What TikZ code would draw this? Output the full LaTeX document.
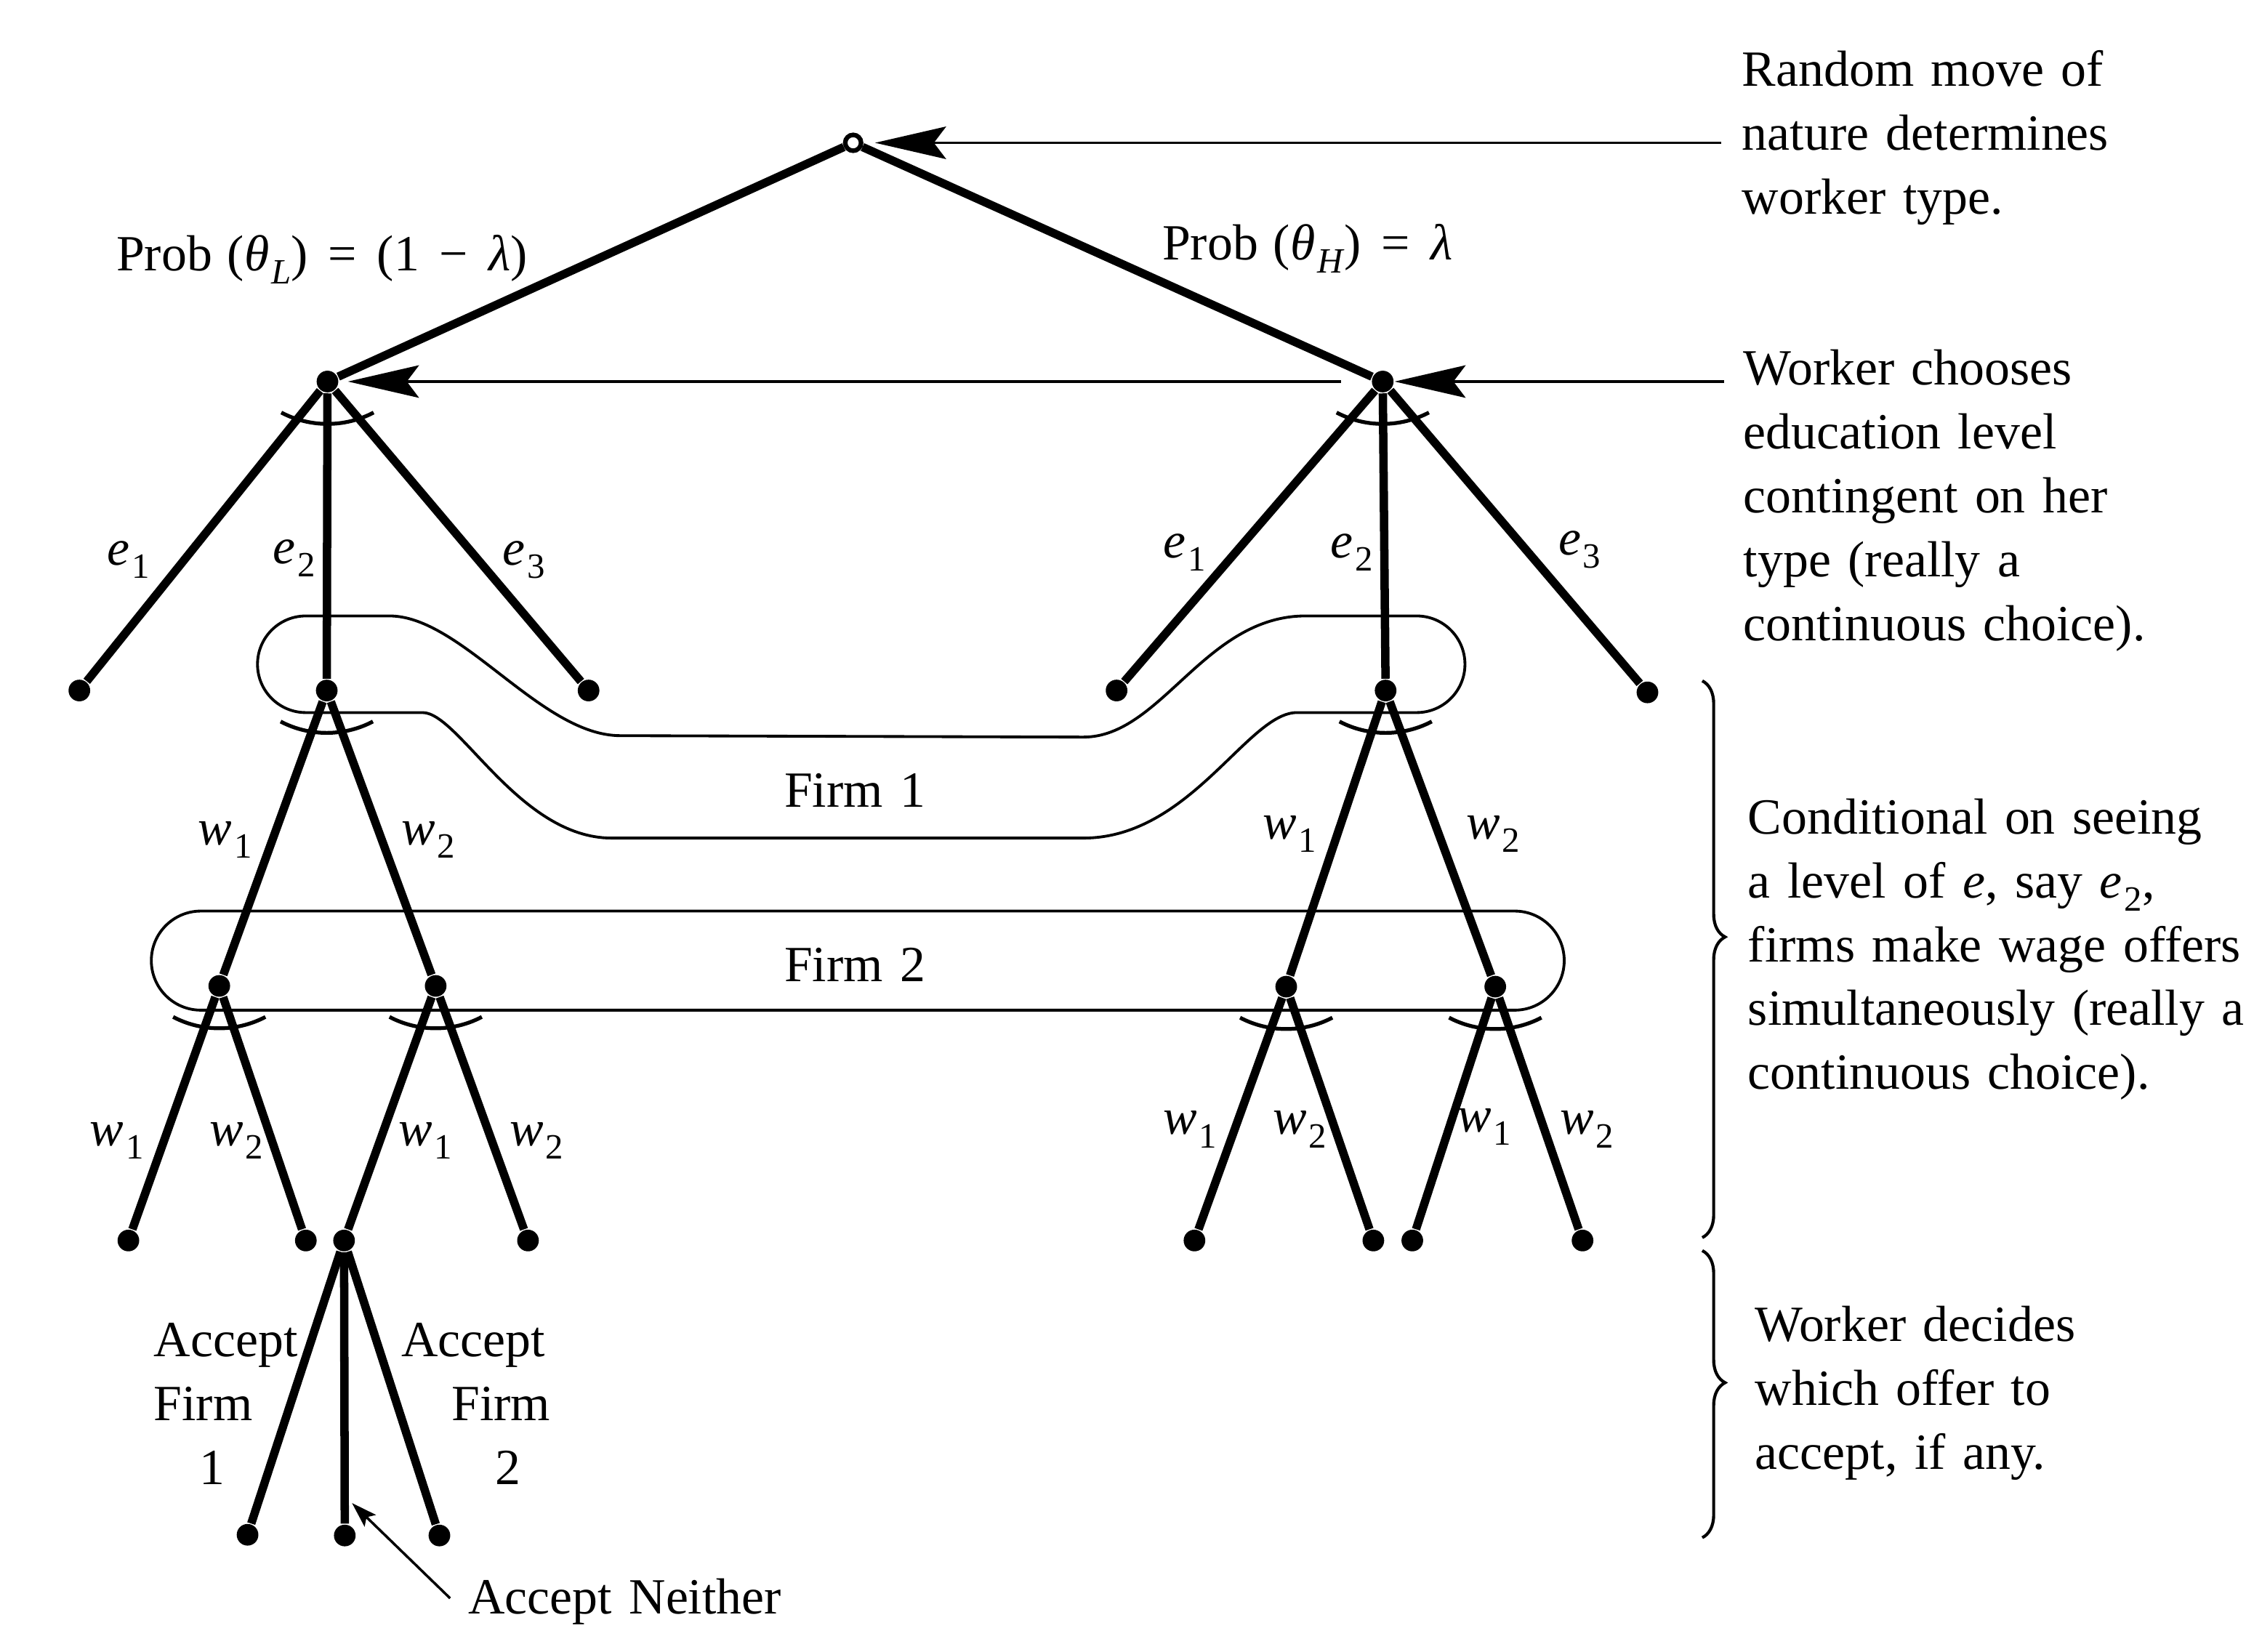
\documentclass[tikz,border=0pt]{standalone}
\usepackage{fontspec}
\setmainfont{Liberation Serif}[WordSpace=1.35]
\usetikzlibrary{arrows.meta,decorations.pathreplacing,calc}
\newcommand\sbs[1]{\kern0.4pt\raisebox{-2.6pt}{\fontsize{7}{7}\selectfont #1}}
\newcommand\lab[2]{\textit{#1}\sbs{#2}}
\newcommand\txtfont{\fontsize{10}{12.6}\selectfont}
\begin{document}
\begin{tikzpicture}[x=0.01cm,y=-0.01cm,
  dnode/.style={circle,fill=black,inner sep=0pt,minimum size=0.15cm},
  chance/.style={circle,draw=black,fill=white,line width=0.9pt,inner sep=0pt,minimum size=0.11cm},
  treeedge/.style={line width=1.65pt},
  iset/.style={line width=0.55pt},
  annot/.style={line width=0.5pt},
  bigarrow/.style={annot,-{Stealth[length=14pt,width=6.4pt,inset=2.4pt]}},
  smallarrow/.style={annot,-{Stealth[length=5pt,width=3.2pt,inset=1pt]}},
  anglemark/.style={line width=0.75pt},
  lbl/.style={inner sep=0pt,font=\txtfont},
  note/.style={anchor=base west,inner sep=0pt,font=\txtfont},
  bracestyle/.style={line width=0.6pt,decorate,decoration={brace,amplitude=4.5pt,aspect=0.46}}
]
\useasboundingbox (0,0) rectangle (1568,1145);

% information sets
\draw[iset] (212,427) -- (270,427)
  .. controls (320,427) and (375,510) .. (430,510)
  -- (751,511)
  .. controls (805,511) and (835,427) .. (905,427)
  -- (982,427)
  .. controls (1000.5,427) and (1015.5,442) .. (1015.5,460.5)
  .. controls (1015.5,479) and (1000.5,494) .. (982,494)
  -- (899,494)
  .. controls (865,494) and (825,581) .. (751,581)
  -- (424,581)
  .. controls (360,581) and (318,494) .. (293,494)
  -- (212,494)
  .. controls (193.5,494) and (178.5,479) .. (178.5,460.5)
  .. controls (178.5,442) and (193.5,427) .. (212,427) -- cycle;
\draw[iset,rounded corners=0.343cm] (104.9,631.6) rectangle (1084.3,700.3);

% nodes
\node[chance] (N) at (591.4,99) {};
\node[dnode] (WL) at (227,264.5) {};
\node[dnode] (WH) at (958.5,264.5) {};
\node[dnode] (Le1) at (55,478.7) {};
\node[dnode] (Le2) at (226.5,478.7) {};
\node[dnode] (Le3) at (408,478.7) {};
\node[dnode] (He1) at (774,478.7) {};
\node[dnode] (He2) at (960.5,478.7) {};
\node[dnode] (He3) at (1142,480) {};
\node[dnode] (L1) at (152,683.5) {};
\node[dnode] (L2) at (302,683.5) {};
\node[dnode] (H1) at (891.6,684) {};
\node[dnode] (H2) at (1036.5,684) {};
\node[dnode] (L11) at (89,860) {};
\node[dnode] (L12) at (212,860) {};
\node[dnode] (A) at (238.5,860) {};
\node[dnode] (L22) at (366,860) {};
\node[dnode] (H11) at (828,860) {};
\node[dnode] (H12) at (952,860) {};
\node[dnode] (H21) at (979,860) {};
\node[dnode] (H22) at (1097,860) {};
\node[dnode] (A1) at (171.6,1064) {};
\node[dnode] (AN) at (239,1064.5) {};
\node[dnode] (A2) at (304.6,1064.5) {};

% tree edges
\draw[treeedge] (N) -- (WL);
\draw[treeedge] (N) -- (WH);
\draw[treeedge] (WL) -- (Le1);
\draw[treeedge] (WL) -- (Le2);
\draw[treeedge] (WL) -- (Le3);
\draw[treeedge] (WH) -- (He1);
\draw[treeedge] (WH) -- (He2);
\draw[treeedge] (WH) -- (He3);
\draw[treeedge] (Le2) -- (L1);
\draw[treeedge] (Le2) -- (L2);
\draw[treeedge] (He2) -- (H1);
\draw[treeedge] (He2) -- (H2);
\draw[treeedge] (L1) -- (L11);
\draw[treeedge] (L1) -- (L12);
\draw[treeedge] (L2) -- (A);
\draw[treeedge] (L2) -- (L22);
\draw[treeedge] (H1) -- (H11);
\draw[treeedge] (H1) -- (H12);
\draw[treeedge] (H2) -- (H21);
\draw[treeedge] (H2) -- (H22);
\draw[treeedge] (A) -- (A1);
\draw[treeedge] (A) -- (AN);
\draw[treeedge] (A) -- (A2);

% angle marks
\foreach \nd in {WL,WH,Le2,He2,L1,L2,H1,H2}
  \draw[anglemark] ($(\nd)+(-32,21.5)$) .. controls ($(\nd)+(-12,32)$) and ($(\nd)+(12,32)$) .. ($(\nd)+(32,21.5)$);

% edge labels
\node[lbl] (pL) [note] at (80,187.5) {Prob\hspace{0.3em}(\textit{θ}\sbs{\textit{L}})\hspace{0.4em}=\hspace{0.4em}(1\hspace{0.4em}−\hspace{0.4em}\textit{λ})};
\node[lbl] (pH) [note] at (805,180) {Prob\hspace{0.3em}(\textit{θ}\sbs{\textit{H}})\hspace{0.4em}=\hspace{0.4em}\textit{λ}};
\node[lbl] (le1) at (89,388) {\lab{e}{1}};
\node[lbl] (le2) at (204,387) {\lab{e}{2}};
\node[lbl] (le3) at (363,388) {\lab{e}{3}};
\node[lbl] (he1) at (821,383) {\lab{e}{1}};
\node[lbl] (he2) at (937,383) {\lab{e}{2}};
\node[lbl] (he3) at (1095,381) {\lab{e}{3}};
\node[lbl] (lw1) at (156,582) {\lab{w}{1}};
\node[lbl] (lw2) at (297,582) {\lab{w}{2}};
\node[lbl] (hw1) at (894,578) {\lab{w}{1}};
\node[lbl] (hw2) at (1035,578) {\lab{w}{2}};
\node[lbl] (l1w1) at (81,791) {\lab{w}{1}};
\node[lbl] (l1w2) at (164,791) {\lab{w}{2}};
\node[lbl] (l2w1) at (295,791) {\lab{w}{1}};
\node[lbl] (l2w2) at (372,791) {\lab{w}{2}};
\node[lbl] (h1w1) at (825,783) {\lab{w}{1}};
\node[lbl] (h1w2) at (901,783) {\lab{w}{2}};
\node[lbl] (h2w1) at (1029,781) {\lab{w}{1}};
\node[lbl] (h2w2) at (1100,783) {\lab{w}{2}};
\node[note] (f1) at (543,559.6) {Firm 1};
\node[note] (f2) at (543,680.5) {Firm 2};
\node[note] (acc1) at (106,940.6) {\begin{tabular}[t]{@{}l@{}}Accept\\ Firm\\ \hspace*{9pt}1\end{tabular}};
\node[note] (acc2) at (277.6,940.6) {\begin{tabular}[t]{@{}l@{}}Accept\\ \hspace*{9.9pt}Firm\\ \hspace*{18.5pt}2\end{tabular}};
\node[note] (accN) at (324,1119) {Accept Neither};

% annotations
\node[note] (t1) at (1207,59.6) {\begin{tabular}[t]{@{}l@{}}Random move of\\ nature determines\\ worker type.\end{tabular}};
\node[note] (t2) at (1208,267) {\begin{tabular}[t]{@{}l@{}}Worker chooses\\ education level\\ contingent on her\\ type (really a\\ continuous choice).\end{tabular}};
\node[note] (t3) at (1211,578) {\begin{tabular}[t]{@{}l@{}}Conditional on seeing\\ a level of \textit{e}, say \lab{e}{2},\\ firms make wage offers\\ simultaneously (really a\\ continuous choice).\end{tabular}};
\node[note] (t4) at (1216,930) {\begin{tabular}[t]{@{}l@{}}Worker decides\\ which offer to\\ accept, if any.\end{tabular}};

\coordinate (natTail) at (1193,99);
\coordinate (wrkTail) at (1195,264.5);
\draw[bigarrow,shorten >=2.3pt] (natTail) -- (N);
\draw[bigarrow] (wrkTail) -- (WH);
\draw[bigarrow,shorten >=1.7pt] ($(WH)+(-29,0)$) -- (WL);

\coordinate (anTail) at (312,1108);
\coordinate (anTip) at (244,1042);
\draw[smallarrow] (anTail) -- (anTip);

\coordinate (b1t) at (1180,472);
\coordinate (b1b) at (1180,858);
\coordinate (b2t) at (1180,867);
\coordinate (b2b) at (1180,1066);
\draw[bracestyle] (b1t) -- (b1b);
\draw[bracestyle] (b2t) -- (b2b);
\end{tikzpicture}
\end{document}
